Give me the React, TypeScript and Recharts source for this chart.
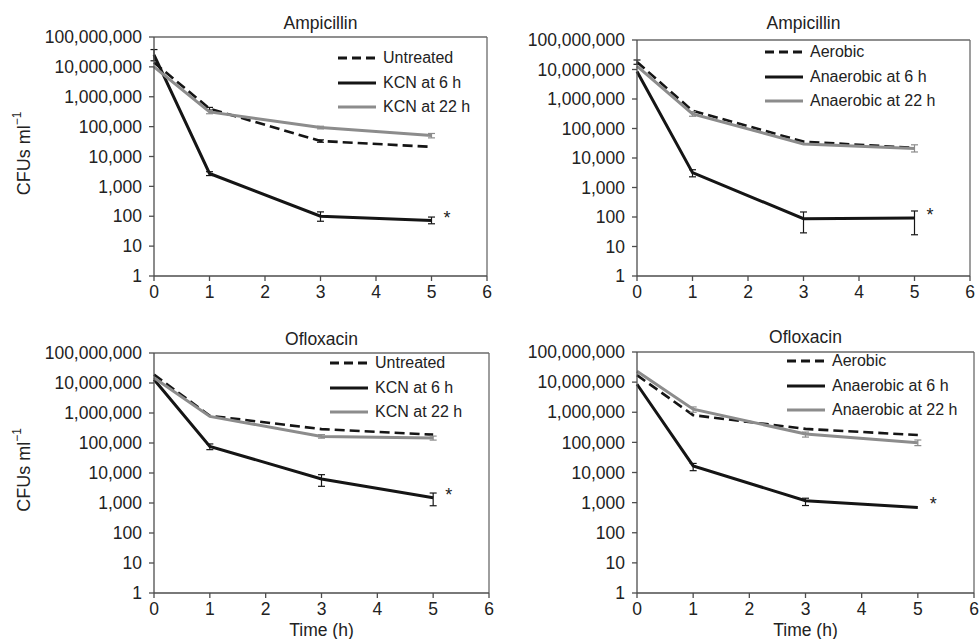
import React from "react";
import {
  LineChart,
  Line,
  XAxis,
  YAxis,
  ErrorBar,
  ReferenceLine,
  Legend,
  LabelList,
} from "recharts";

const FONT = "'Liberation Sans', Arial, Helvetica, sans-serif";

// sampling times (h)
const times = [0, 1, 3, 5];
const xTicks = [0, 1, 2, 3, 4, 5, 6];
const yTicks = [1, 10, 100, 1e3, 1e4, 1e5, 1e6, 1e7, 1e8];

const kcnNames = ["Untreated", "KCN at 6 h", "KCN at 22 h"];
const anaerobicNames = ["Aerobic", "Anaerobic at 6 h", "Anaerobic at 22 h"];

// Ampicillin, KCN
const ampUntreated = [14e6, 4.0e5, 3.3e4, 2.1e4];
const ampKcn6 = [25e6, 2.7e3, 100, 72];
const ampKcn22 = [10e6, 3.1e5, 9.3e4, 5.0e4];
const ampUntreatedErr = [null, [3.6e5, 4.4e5], [3.0e4, 3.6e4], null];
const ampKcn6Err = [[16e6, 38e6], [2.3e3, 3.1e3], [68, 140], [56, 94]];
const ampKcn22Err = [null, [2.7e5, 3.5e5], [8.4e4, 1.03e5], [4.2e4, 5.9e4]];

// Ampicillin, anaerobic
const ampAerobic = [18e6, 4.0e5, 3.6e4, 2.2e4];
const ampAnaer6 = [8.5e6, 3.2e3, 88, 92];
const ampAnaer22 = [13e6, 3.1e5, 3.0e4, 2.1e4];
const ampAerobicErr = [[15e6, 21e6], null, null, null];
const ampAnaer6Err = [null, [2.3e3, 4.0e3], [29, 148], [25, 160]];
const ampAnaer22Err = [null, [2.6e5, 3.7e5], null, [1.6e4, 2.8e4]];

// Ofloxacin, KCN
const oflUntreated = [19e6, 8.1e5, 2.9e5, 1.9e5];
const oflKcn6 = [13e6, 7.7e4, 6.3e3, 1.5e3];
const oflKcn22 = [15e6, 7.7e5, 1.65e5, 1.47e5];
const oflUntreatedErr = [null, null, null, null];
const oflKcn6Err = [null, [6.0e4, 9.3e4], [3.6e3, 8.8e3], [8.1e2, 2.15e3]];
const oflKcn22Err = [null, null, [1.45e5, 1.9e5], [1.25e5, 1.7e5]];

// Ofloxacin, anaerobic
const oflAerobic = [17e6, 8.0e5, 2.8e5, 1.75e5];
const oflAnaer6 = [8.5e6, 1.65e4, 1.15e3, 6.9e2];
const oflAnaer22 = [23e6, 1.27e6, 1.9e5, 9.8e4];
const oflAerobicErr = [null, null, null, null];
const oflAnaer6Err = [null, [1.15e4, 2.0e4], [8.0e2, 1.4e3], null];
const oflAnaer22Err = [null, [1.0e6, 1.5e6], [1.5e5, 2.2e5], [7.8e4, 1.2e5]];

const seriesStyle = [
  { stroke: "#151515", width: 2.6, dash: "10 5" },
  { stroke: "#151515", width: 3, dash: undefined },
  { stroke: "#8c8c8c", width: 3, dash: undefined },
];

type Err = number[] | null;

function buildRows(values: number[][], errs: Err[][]) {
  return times.map((t, i) => {
    const row: any = { time: t };
    values.forEach((vals, s) => {
      const v = vals[i];
      const e = errs[s][i];
      row["s" + s] = v;
      row["e" + s] = e ? [v - e[0], e[1] - v] : null;
    });
    return row;
  });
}

const LegendBox = ({ names }: { names: string[] }) => (
  <div style={{ fontFamily: FONT, fontSize: 16, color: "#222" }}>
    {names.map((n, i) => (
      <div key={n} style={{ display: "flex", alignItems: "center", height: 24.5 }}>
        <svg width={38} height={6}>
          <line
            x1={0}
            y1={3}
            x2={38}
            y2={3}
            stroke={seriesStyle[i].stroke}
            strokeWidth={3}
            strokeDasharray={i === 0 ? "9 5" : undefined}
          />
        </svg>
        <span style={{ marginLeft: 7, whiteSpace: "nowrap" }}>{n}</span>
      </div>
    ))}
  </div>
);

type PanelProps = {
  left: number;
  top: number;
  width: number;
  height: number;
  margin: { top: number; right: number; bottom: number; left: number };
  yAxisWidth: number;
  title: string;
  titleY: number;
  names: string[];
  values: number[][];
  errors: Err[][];
  legendPos: { left: number; top: number };
  yLabel?: boolean;
  xLabel?: boolean;
};

function Panel(p: PanelProps) {
  const rows = buildRows(p.values, p.errors);
  const plotLeft = p.margin.left + p.yAxisWidth;
  const plotWidth = p.width - plotLeft - p.margin.right;
  const tickStyle = { fontFamily: FONT, fontSize: 17.5, fill: "#222" };
  const axisColor = "#4d4d4d";

  return (
    <div style={{ position: "absolute", left: p.left, top: p.top, width: p.width, height: p.height }}>
      <div
        style={{
          position: "absolute",
          left: plotLeft,
          width: plotWidth,
          top: p.titleY - 10,
          lineHeight: "20px",
          textAlign: "center",
          fontFamily: FONT,
          fontSize: 17.5,
          color: "#222",
        }}
      >
        {p.title}
      </div>
      <LineChart width={p.width} height={p.height} data={rows} margin={p.margin}>
        <XAxis
          dataKey="time"
          type="number"
          domain={[0, 6]}
          ticks={xTicks}
          interval={0}
          height={30}
          tick={tickStyle}
          tickSize={5}
          tickMargin={5}
          stroke={axisColor}
          strokeWidth={1.3}
          label={
            p.xLabel
              ? (lp: any) => (
                  <text
                    x={lp.viewBox.x + lp.viewBox.width / 2}
                    y={lp.viewBox.y + 37}
                    textAnchor="middle"
                    dominantBaseline="central"
                    fontFamily={FONT}
                    fontSize={17.5}
                    fill="#222"
                  >
                    Time (h)
                  </text>
                )
              : undefined
          }
        />
        <YAxis
          type="number"
          scale="log"
          domain={[1, 1e8]}
          allowDataOverflow
          ticks={yTicks}
          interval={0}
          width={p.yAxisWidth}
          tick={tickStyle}
          tickSize={5}
          tickMargin={7}
          tickFormatter={(v: number) => v.toLocaleString("en-US")}
          stroke={axisColor}
          strokeWidth={1.3}
          label={
            p.yLabel
              ? (lp: any) => {
                  const cx = lp.viewBox.x + 24;
                  const cy = lp.viewBox.y + lp.viewBox.height / 2 - 3;
                  return (
                    <text
                      x={cx}
                      y={cy}
                      transform={`rotate(-90, ${cx}, ${cy})`}
                      textAnchor="middle"
                      dominantBaseline="central"
                      fontFamily={FONT}
                      fontSize={18}
                      fill="#222"
                    >
                      CFUs ml
                      <tspan fontSize={12} dy={-7}>
                        −1
                      </tspan>
                    </text>
                  );
                }
              : undefined
          }
        />
        <ReferenceLine y={1e8} stroke="#6a6a6a" strokeWidth={1.3} />
        <ReferenceLine x={6} stroke="#6a6a6a" strokeWidth={1.3} />
        {p.values.map((_, s) => (
          <Line
            key={s}
            dataKey={"s" + s}
            name={p.names[s]}
            stroke={seriesStyle[s].stroke}
            strokeWidth={seriesStyle[s].width}
            strokeDasharray={seriesStyle[s].dash}
            dot={false}
            activeDot={false}
            type="linear"
            isAnimationActive={false}
          >
            <ErrorBar dataKey={"e" + s} width={3.5} stroke={seriesStyle[s].stroke} strokeWidth={1.2} />
            {s === 1 ? (
              <LabelList
                dataKey="s1"
                content={(lp: any) =>
                  lp.index === times.length - 1 ? (
                    <text x={lp.x + 12} y={lp.y + 3} fontFamily={FONT} fontSize={18} fill="#222">
                      *
                    </text>
                  ) : null
                }
              />
            ) : null}
          </Line>
        ))}
        <Legend
          layout="vertical"
          align="center"
          verticalAlign="middle"
          wrapperStyle={{ left: p.legendPos.left, top: p.legendPos.top, width: 200 }}
          content={() => <LegendBox names={p.names} />}
        />
      </LineChart>
    </div>
  );
}

export default function App() {
  return (
    <div style={{ position: "absolute", left: 0, top: 0, width: 979, height: 639, background: "#fff" }}>
      <Panel
        left={0}
        top={0}
        width={500}
        height={310}
        margin={{ top: 37, right: 13, bottom: 4, left: 0 }}
        yAxisWidth={154}
        title="Ampicillin"
        titleY={23}
        names={kcnNames}
        values={[ampUntreated, ampKcn6, ampKcn22]}
        errors={[ampUntreatedErr, ampKcn6Err, ampKcn22Err]}
        legendPos={{ left: 338, top: 46 }}
        yLabel
      />
      <Panel
        left={490}
        top={0}
        width={489}
        height={310}
        margin={{ top: 40, right: 9, bottom: 4, left: 0 }}
        yAxisWidth={147}
        title="Ampicillin"
        titleY={23}
        names={anaerobicNames}
        values={[ampAerobic, ampAnaer6, ampAnaer22]}
        errors={[ampAerobicErr, ampAnaer6Err, ampAnaer22Err]}
        legendPos={{ left: 275, top: 40 }}
      />
      <Panel
        left={0}
        top={310}
        width={500}
        height={329}
        margin={{ top: 43, right: 11, bottom: 16, left: 0 }}
        yAxisWidth={154}
        title="Ofloxacin"
        titleY={29}
        names={kcnNames}
        values={[oflUntreated, oflKcn6, oflKcn22]}
        errors={[oflUntreatedErr, oflKcn6Err, oflKcn22Err]}
        legendPos={{ left: 330, top: 41 }}
        yLabel
        xLabel
      />
      <Panel
        left={490}
        top={310}
        width={489}
        height={329}
        margin={{ top: 42, right: 5, bottom: 16, left: 0 }}
        yAxisWidth={147}
        title="Ofloxacin"
        titleY={27}
        names={anaerobicNames}
        values={[oflAerobic, oflAnaer6, oflAnaer22]}
        errors={[oflAerobicErr, oflAnaer6Err, oflAnaer22Err]}
        legendPos={{ left: 297, top: 39 }}
        xLabel
      />
    </div>
  );
}
